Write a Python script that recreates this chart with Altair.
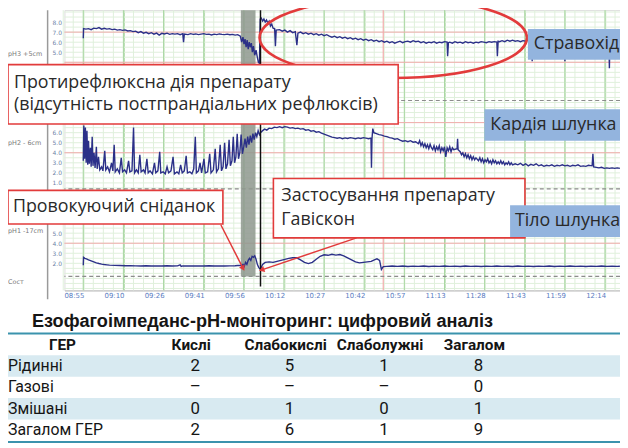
import altair as alt
import numpy as np
import pandas as pd

# ------------------------------------------------------------------ data
TIME_LABELS = ["08:55", "09:10", "09:26", "09:41", "09:56", "10:12", "10:27",
               "10:42", "10:57", "11:13", "11:28", "11:43", "11:59", "12:14"]
TIME_TICKS = [0, 15.33, 30.67, 46, 61.33, 76.67, 92, 107.33, 122.67, 138,
              153.33, 168.67, 184, 199.33]          # minutes after 08:55

CHANNELS = ["pH3 +5cm", "pH2 - 6cm", "pH1 -17cm"]
PH_TICKS = {"pH3 +5cm": [5, 6, 7, 8], "pH2 - 6cm": [1, 2, 3, 4, 5, 6], "pH1 -17cm": [2, 3, 4, 5]}

# (minutes after 08:55, pH)
PH3 = [(0, 6.4), (0.1, 7.35), (1, 7.3), (2, 7.35), (3, 7.25), (4, 7.4), (5, 7.35), (6, 7.45),
       (7, 7.3), (8, 7.38), (9, 7.3), (10, 7.35), (11, 7.25), (12, 7.3), (13, 7.2), (14, 7.25),
       (15, 7.18), (16, 7.22), (17, 7.12), (18, 7.15), (19, 7.05), (20, 7.1), (21, 6.95),
       (22, 7.05), (23, 6.9), (24, 6.98), (25, 6.85), (26, 6.95), (27, 6.8), (28, 6.9),
       (29, 6.7), (30, 6.88), (31, 6.82), (32, 6.9), (33, 6.78), (34, 6.85), (35, 6.8),
       (36, 6.85), (37, 6.75), (38, 6.85), (38.3, 6.0), (38.6, 6.8), (40, 6.75), (41, 6.85),
       (42, 6.78), (43, 6.82), (44, 6.75), (45, 6.8), (46, 6.85), (47, 6.78), (48, 6.8),
       (49, 6.72), (50, 6.8), (51, 6.75), (52, 6.82), (53, 6.78), (54, 6.75), (55, 6.8),
       (56, 6.74), (57, 6.78), (58, 6.7), (59, 6.75), (60, 6.6), (60.5, 6.0), (61, 6.5),
       (61.4, 5.8), (61.8, 6.3), (62.2, 5.5), (62.6, 6.2), (63, 5.3), (63.4, 6.0), (63.8, 5.5),
       (64.2, 5.9), (64.6, 5.0), (65, 5.6), (65.5, 4.7), (66, 5.2), (66.5, 4.5), (66.9, 4.0),
       (67.3, 3.9), (67.6, 8.3), (68, 8.4), (68.5, 8.1), (69, 8.3), (69.5, 8.0), (70, 8.2),
       (70.5, 7.9), (71, 8.1), (71.5, 7.6), (72, 7.8), (72.5, 7.4), (73.1, 7.35), (73.4, 5.6),
       (73.7, 7.2), (75, 7.25), (76, 7.1), (77, 7.2), (78, 7.0), (79, 7.15), (80, 6.95),
       (81, 7.05), (81.6, 5.7), (82, 6.9), (83, 7.0), (84, 6.85), (85, 6.95), (86, 6.8),
       (87, 6.9), (88, 6.75), (89, 6.85), (90, 6.7), (91, 6.8), (92, 6.65), (93, 6.75),
       (94, 6.6), (95, 6.5), (96, 6.6), (97, 6.45), (98, 6.55), (99, 6.4), (100, 6.5),
       (101, 6.35), (102, 6.45), (103, 6.3), (104, 6.4), (105, 6.25), (106, 6.35), (107, 6.2),
       (108, 6.3), (109, 6.15), (110, 6.25), (111, 6.1), (112, 6.2), (113, 6.05), (114, 6.15),
       (115, 6.0), (116, 6.1), (117, 5.95), (118, 6.05), (119, 5.9), (120, 6.0), (121, 6.1),
       (122, 5.95), (123, 6.05), (124, 6.1), (125, 6.0), (126, 6.15), (127, 6.05), (128, 6.1),
       (129, 5.95), (130, 6.05), (131, 5.9), (132, 6.0), (133, 5.95), (134, 6.05), (135, 5.9),
       (136, 6.0), (137, 5.95), (138, 6.05), (139, 6.0), (139.2, 4.6), (139.5, 5.95), (140, 6.0),
       (141, 5.9), (142, 6.05), (143, 5.95), (144, 6.0), (145, 5.9), (146, 6.05), (147, 5.95),
       (148, 6.0), (149, 5.9), (150, 6.0), (151, 5.95), (152, 6.05), (153, 6.0), (154, 5.95),
       (155, 6.05), (156, 6.0), (157, 6.05), (158, 6.0), (158.2, 4.6), (158.5, 6.1), (159, 6.05),
       (160, 6.15), (161, 6.05), (162, 6.2), (163, 6.1), (164, 6.2), (165, 6.1), (166, 6.15),
       (167, 6.05), (168, 6.15), (169, 6.1), (170, 6.2), (171.3, 6.1), (171.5, 4.1), (171.7, 6.1),
       (173, 6.15), (175, 6.05), (177, 6.15), (179, 6.1), (181, 6.15), (183.8, 6.1), (184, 4.1),
       (184.2, 6.1), (186, 6.05), (188, 6.15), (190, 6.1), (192, 6.05), (194, 6.15), (196, 6.1),
       (198, 6.05), (200.8, 6.1), (201, 3.4), (201.2, 6.1), (203, 6.05), (205, 6.1)]

PH2 = [(0, 3.2), (0.2, 6.7), (0.5, 3.4), (0.8, 6.5), (1.1, 3.0), (1.4, 6.2), (1.7, 2.8), (2.0, 5.2),
       (2.3, 2.9), (2.7, 4.5), (3.0, 2.6), (3.4, 5.6), (3.7, 2.7), (4.1, 4.0), (4.5, 2.5),
       (5.0, 4.6), (5.3, 2.4), (5.8, 3.6), (6.3, 2.3), (7.0, 2.6), (7.5, 2.2), (8.2, 4.2),
       (8.6, 2.3), (9.3, 2.6), (10.0, 2.1), (10.8, 3.0), (11.3, 2.2), (11.8, 4.8), (12.2, 2.1),
       (13.0, 2.4), (13.8, 2.0), (14.5, 3.5), (15.0, 2.1), (15.8, 2.3), (16.5, 2.0), (17.3, 3.2),
       (17.8, 2.1), (18.6, 2.2), (19.2, 6.5), (19.6, 2.0), (20.3, 2.3), (21.0, 2.0), (21.6, 3.8),
       (22.1, 2.1), (23.0, 2.3), (23.6, 2.0), (24.3, 3.4), (24.8, 2.0), (25.5, 2.2), (26.4, 1.9),
       (27.2, 3.0), (27.7, 2.0), (28.5, 2.2), (29.2, 4.1), (29.6, 2.0), (30.5, 2.1), (31.3, 1.9),
       (32.0, 2.6), (32.6, 2.0), (33.5, 2.2), (34.3, 3.6), (34.8, 1.9), (35.8, 2.1), (36.5, 1.9),
       (37.2, 2.8), (37.8, 2.0), (38.6, 2.2), (39.3, 3.7), (39.8, 2.0), (40.7, 2.1), (41.5, 1.9),
       (42.2, 2.4), (42.8, 5.6), (43.2, 2.0), (44.0, 2.2), (44.6, 3.0), (45.2, 2.0), (46.1, 3.4),
       (46.6, 2.0), (47.5, 2.1), (48.3, 3.9), (48.8, 2.0), (49.7, 2.3), (50.4, 4.4), (50.9, 2.1),
       (51.6, 2.4), (52.3, 4.8), (52.8, 2.2), (53.4, 2.6), (54.0, 5.0), (54.5, 2.4), (55.1, 2.9),
       (55.7, 5.3), (56.2, 2.7), (56.8, 3.2), (57.3, 5.6), (57.8, 3.0), (58.3, 3.6), (58.8, 5.9),
       (59.3, 3.4), (59.8, 4.0), (60.3, 5.8), (60.8, 3.9), (61.3, 4.6), (61.8, 5.4), (62.3, 4.5),
       (62.8, 5.6), (63.3, 4.8), (63.8, 5.7), (64.3, 5.0), (64.8, 5.9), (65.3, 5.3), (65.8, 6.0),
       (66.3, 5.6), (66.8, 6.2), (67.3, 5.8), (67.7, 6.0), (68.5, 6.2), (69.3, 6.35), (70.1, 6.25),
       (71.0, 6.45), (72.0, 6.4), (73.0, 6.55), (74.0, 6.5), (75.0, 6.6), (76.0, 6.5), (77.0, 6.6),
       (78.0, 6.55), (79.0, 6.45), (80.0, 6.5), (81.0, 6.4), (82, 6.45), (83, 6.35), (84, 6.4),
       (85, 6.25), (86, 6.3), (87, 6.15), (88, 6.2), (89, 6.05), (90, 6.1), (91, 5.95), (92, 5.85),
       (93, 5.75), (94, 5.65), (95, 5.55), (96, 5.5), (97, 5.45), (98, 5.5), (99, 5.4), (100, 5.48),
       (101, 5.42), (102, 5.5), (103, 5.45), (104, 5.4), (105, 5.48), (106, 5.42), (107, 5.5),
       (108, 5.45), (109, 5.4), (109.9, 5.45), (110.1, 2.5), (110.3, 5.4), (110.6, 6.4), (111, 6.0),
       (112, 5.9), (113, 5.8), (114, 5.75), (115, 5.65), (116, 5.6), (117, 5.5), (118, 5.45),
       (119, 5.35), (120, 5.4), (121, 5.25), (122, 5.15), (123, 5.2), (124, 5.1), (125, 5.2),
       (126, 5.05), (127, 5.1), (128, 4.9), (128.5, 5.2), (129, 4.7), (129.5, 5.0), (130, 4.6),
       (130.5, 4.9), (131, 4.5), (131.5, 4.8), (132, 4.4), (132.5, 4.85), (133, 4.5), (133.5, 4.3),
       (134, 4.7), (134.5, 4.2), (135, 4.6), (135.5, 4.3), (136, 4.7), (136.5, 4.1), (137, 4.5),
       (137.5, 4.2), (138, 4.6), (138.5, 3.6), (139, 4.5), (139.5, 4.2), (140, 4.6), (140.5, 4.1),
       (141, 4.5), (141.5, 4.3), (142.8, 4.4), (143.0, 5.4), (143.2, 4.3), (144, 4.1), (144.5, 3.8),
       (145, 4.0), (145.5, 3.6), (146, 3.9), (146.5, 3.5), (147, 3.8), (147.5, 3.4), (148, 3.7),
       (148.5, 3.3), (149, 3.6), (149.5, 3.3), (150, 3.5), (151, 3.2), (151.5, 3.5), (152, 3.1),
       (152.5, 3.4), (153, 3.0), (153.5, 3.3), (154, 3.1), (154.5, 3.4), (155, 3.0), (155.5, 3.2),
       (156, 2.9), (156.5, 3.3), (157, 3.0), (157.5, 3.2), (158, 2.9), (158.5, 3.1), (159, 2.9),
       (159.5, 3.2), (160, 2.9), (160.5, 3.1), (161, 2.8), (161.5, 3.0), (162, 2.85), (162.5, 3.1),
       (163, 2.8), (163.5, 3.0), (164, 2.8), (165, 2.9), (166, 2.8), (167, 2.95), (168, 2.75),
       (169, 2.9), (170, 2.7), (171, 2.85), (172, 2.75), (173, 2.9), (174, 2.7), (175, 2.8),
       (176, 2.65), (177, 2.75), (178, 2.7), (179, 2.8), (180, 2.65), (181, 2.75), (182, 2.7),
       (183, 2.8), (184, 2.7), (185, 2.75), (186, 2.65), (187, 2.75), (188, 2.7), (189, 2.8),
       (190, 2.65), (191, 2.7), (192, 2.65), (193, 2.75), (194.4, 2.7), (194.7, 3.9), (195.0, 2.6),
       (196, 2.55), (197, 2.5), (198, 2.55), (199, 2.45), (200, 2.5), (201, 2.45), (202, 2.5),
       (203, 2.45), (204, 2.5), (205, 2.45)]

PH1 = [(0, 1.8), (0.1, 2.6), (0.6, 2.5), (1.2, 2.45), (2, 2.35), (3, 2.25), (4, 2.15), (5, 2.05),
       (6, 1.98), (7, 1.92), (8, 1.88), (9, 1.85), (10, 1.82), (12, 1.8), (14, 1.78), (16, 1.76),
       (18, 1.77), (20, 1.75), (22, 1.74), (24, 1.76), (26, 1.73), (28, 1.75), (30, 1.74),
       (32, 1.76), (34, 1.73), (36, 1.75), (37, 1.85), (37.4, 1.7), (38, 1.74), (40, 1.75),
       (42, 1.73), (44, 1.75), (46, 1.74), (48, 1.76), (50, 1.74), (52, 1.75), (54, 1.73),
       (56, 1.75), (58, 1.76), (59, 1.78), (60, 1.8), (60.5, 1.75), (61, 1.9), (61.5, 1.7),
       (62, 2.1), (62.5, 1.9), (63, 2.3), (63.5, 2.5), (64, 2.3), (64.5, 2.7), (65, 2.6),
       (65.5, 2.75), (66, 2.4), (66.5, 1.9), (67, 1.6), (67.7, 1.4), (68.5, 1.9), (69.5, 2.1),
       (71, 2.15), (72.5, 2.1), (74, 2.2), (75.5, 2.3), (77, 2.4), (78.5, 2.5), (80, 2.55),
       (81.5, 2.55), (83, 2.35), (84.5, 2.1), (86, 1.97), (87.5, 2.1), (89, 2.4), (90.5, 2.7),
       (92, 2.85), (93.5, 2.8), (95, 2.9), (96.5, 2.82), (98, 2.88), (99.5, 2.75), (101, 2.55),
       (102.5, 2.35), (104, 2.15), (105.5, 2.05), (107, 2.1), (108.5, 2.15), (110, 2.2),
       (111.2, 2.35), (112.2, 2.45), (113.2, 2.3), (113.9, 1.4), (114.6, 1.68), (116, 1.7),
       (118, 1.74), (120, 1.7), (122, 1.73), (124, 1.69), (126, 1.72), (128, 1.7), (130, 1.73),
       (132, 1.68), (134, 1.72), (136, 1.7), (138, 1.74), (140, 1.7), (142, 1.72), (144, 1.69),
       (146, 1.73), (148, 1.7), (150, 1.72), (152, 1.68), (154, 1.72), (156, 1.7), (158, 1.74),
       (160, 1.7), (162, 1.72), (164, 1.69), (166, 1.73), (168, 1.7), (170, 1.72), (172, 1.68),
       (174, 1.72), (176, 1.7), (178, 1.73), (180, 1.69), (182, 1.72), (184, 1.7), (186, 1.73),
       (188, 1.7), (190, 1.72), (192, 1.69), (194, 1.72), (196, 1.7), (198, 1.73), (200, 1.7),
       (202, 1.72), (204, 1.7), (205, 1.71)]

BREAKFAST = (60.2, 65.8)        # minutes
GAVISCON = 67.7                 # minutes
EVENT_MARKS = [114.6]           # red event line
PH_REF = {"pH3 +5cm": [4, 7], "pH2 - 6cm": [4, 7], "pH1 -17cm": [4]}

TABLE_TITLE = "Езофагоімпеданс-рН-моніторинг: цифровий аналіз"
TABLE_CORNER = "ГЕР"
COLS = ["Кислі", "Слабокислі", "Слаболужні", "Загалом"]
ROWS = ["Рідинні", "Газові", "Змішані", "Загалом ГЕР"]
VALUES = [["2", "5", "1", "8"],
          ["–", "–", "–", "0"],
          ["0", "1", "0", "1"],
          ["2", "6", "1", "9"]]

NOTE_EFFECT = ["Протирефлюксна дія препарату", "(відсутність постпрандіальних рефлюксів)"]
NOTE_BREAKFAST = "Провокуючий сніданок"
NOTE_GAVISCON = ["Застосування препарату", "Гавіскон"]
SITE_LABELS = ["Стравохід", "Кардія шлунка", "Тіло шлунка"]
STATE_LABEL = "Cост"

# ------------------------------------------------------------------ layout
W, H = 561, 283
OFFSET = {"pH3 +5cm": 18, "pH2 - 6cm": 9, "pH1 -17cm": 0}
NAVY = "#2b3088"
RED = "#e23b3b"
BLUE_BOX = "#93b4de"
ANN_FONT = "Open Sans"
TAB_FONT = "Roboto"

XS = alt.Scale(domain=[-7.2, 205.05], nice=False, zero=False)
YS = alt.Scale(domain=[-0.69, 27.19], nice=False, zero=False)
ytick_vals = [p + OFFSET[c] for c in CHANNELS for p in PH_TICKS[c]]
X_AX = alt.Axis(values=TIME_TICKS, labels=False, ticks=False, title=None, grid=True,
                gridColor="#afdaa8", gridWidth=1, domain=True, domainColor="#c6c6c6",
                domainWidth=1.5)
Y_AX = alt.Axis(values=ytick_vals, title=None, grid=False, ticks=False, domain=False,
                labelExpr="format(datum.value > 17.5 ? datum.value - 18 : "
                          "(datum.value > 8.5 ? datum.value - 9 : datum.value), '.1f')",
                labelFontSize=6, labelColor="#6d7fa6", labelPadding=3,
                labelFont="DejaVu Sans", labelOverlap=False)


def X(field):
    return alt.X(field, type="quantitative", scale=XS, axis=X_AX)


def Y(field):
    return alt.Y(field, type="quantitative", scale=YS, axis=Y_AX)


one = pd.DataFrame({"k": [0]})

# traces
rows = []
for ch, pts in zip(CHANNELS, [PH3, PH2, PH1]):
    for i, (t, p) in enumerate(pts):
        rows.append({"ch": ch, "i": i, "t": t, "v": p + OFFSET[ch]})
traces = pd.DataFrame(rows)

# grid
minor_t = pd.DataFrame({"t": np.arange(-2 * 15.333 / 4, 206, 15.333 / 4)})
minor_v = pd.DataFrame({"v": np.arange(-0.5, 27.2, 0.5)})
grid_v = alt.Chart(minor_t).mark_rule(color="#e0f0dc", strokeWidth=1).encode(x=X("t"))
grid_h = alt.Chart(minor_v).mark_rule(color="#e0f0dc", strokeWidth=1).encode(y=Y("v"))
major = alt.Chart(pd.DataFrame({"t": TIME_TICKS})).mark_rule(
    color="#a9d7a2", strokeWidth=1).encode(x=X("t"))

ref_df = pd.DataFrame({"v": [p + OFFSET[c] for c in CHANNELS for p in PH_REF[c]]})
ref_lines = alt.Chart(ref_df).mark_rule(color="#f2abab", strokeWidth=1).encode(y=Y("v"))
event_lines = alt.Chart(pd.DataFrame({"t": EVENT_MARKS})).mark_rule(
    color="#f2abab", strokeWidth=1.2).encode(x=X("t"))
dashed = alt.Chart(pd.DataFrame({"v": [18.2, 9.4, 0.7]})).mark_rule(
    color="#8c8c8c", strokeWidth=1.2, strokeDash=[4, 3]).encode(y=Y("v"))

band = alt.Chart(pd.DataFrame({"t0": [BREAKFAST[0]], "t1": [BREAKFAST[1]]})).mark_rect(
    color="#8e988e", opacity=0.85).encode(x=X("t0"), x2="t1", y=alt.value(0), y2=alt.value(269))

lines = alt.Chart(traces).mark_line(color=NAVY, strokeWidth=1.4).encode(
    x=X("t"), y=Y("v"), detail="ch:N", order="i:Q")

black = alt.Chart(pd.DataFrame({"t": [GAVISCON]})).mark_rule(
    color="#111111", strokeWidth=1.5).encode(x=X("t"), y=alt.value(0), y2=alt.value(279))

time_text = alt.Chart(pd.DataFrame({"t": TIME_TICKS, "lab": TIME_LABELS})).mark_text(
    fontSize=7, color="#5a7cc2", font="DejaVu Sans", dx=-9, baseline="middle").encode(
    x=X("t"), y=alt.value(289), text="lab:N")

left_axis = alt.Chart(one).mark_rule(color="#9a9a9a", strokeWidth=1.5).encode(
    x=alt.value(-17), y=alt.value(0), y2=alt.value(292))


def txt(s, x, y, size=18, font=ANN_FONT, color="#2a2a2a", align="left", weight="normal"):
    return alt.Chart(one).mark_text(text=s, align=align, baseline="middle", font=font,
                                    fontSize=size, color=color, fontWeight=weight).encode(
        x=alt.value(x), y=alt.value(y))


def box(x0, y0, x1, y1, fill, stroke=None):
    kw = dict(fill=fill)
    if stroke:
        kw.update(stroke=stroke, strokeWidth=1.6)
    return alt.Chart(one).mark_rect(**kw).encode(
        x=alt.value(x0), x2=alt.value(x1), y=alt.value(y0), y2=alt.value(y1))


side = [txt(lab, -57, y, size=6.5, font="DejaVu Sans", color="#7a7a7a")
        for lab, y in zip(CHANNELS + [STATE_LABEL], [44, 134, 223, 275])]

ellipse = alt.Chart(one).mark_point(
    shape="M-1,0A1,0.3,0,1,0,1,0A1,0.3,0,1,0,-1,0Z", size=72900, filled=False,
    color=RED, strokeWidth=2.6, opacity=1).encode(x=alt.value(332), y=alt.value(28))


def arrow(x0, y0, x1, y1, ang):
    ln = alt.Chart(one).mark_rule(color=RED, strokeWidth=1.5).encode(
        x=alt.value(x0), y=alt.value(y0), x2=alt.value(x1), y2=alt.value(y1))
    hd = alt.Chart(one).mark_point(shape="triangle", filled=True, size=40, color=RED,
                                   angle=ang, opacity=1).encode(x=alt.value(x1), y=alt.value(y1))
    return [ln, hd]


annotations = (
    [ellipse]
    + [box(-57, 55, 337, 115, "white", RED),
       txt(NOTE_EFFECT[0], -51, 74), txt(NOTE_EFFECT[1], -51, 96)]
    + [box(468, 19, 561, 50, BLUE_BOX), txt(SITE_LABELS[0], 474, 34.5)]
    + [box(424, 100, 561, 132, BLUE_BOX), txt(SITE_LABELS[1], 430, 116)]
    + [box(-57, 182, 160, 216, "white", RED), txt(NOTE_BREAKFAST, -52, 199)]
    + arrow(158, 217, 180, 260, 153)
    + [box(211, 170, 465, 230, "white", RED),
       txt(NOTE_GAVISCON[0], 219, 188), txt(NOTE_GAVISCON[1], 219, 212)]
    + arrow(295, 230, 200, 262, 251)
    + [box(450, 197, 561, 229, BLUE_BOX), txt(SITE_LABELS[2], 455, 213)]
)

plot = alt.layer(grid_v, grid_h, major, ref_lines, event_lines, dashed, band, lines, black,
                 time_text, left_axis, *side, *annotations)

# ------------------------------------------------------------------ table
HDR = "__hdr__"
TY = alt.Scale(type="band", domain=[HDR] + ROWS, range=[327, 435],
               paddingInner=0, paddingOuter=0)
TX = alt.Scale(type="point", domain=COLS, range=[132, 418], padding=0)

cells = pd.DataFrame([{"row": r, "col": c, "val": VALUES[i][j]}
                      for i, r in enumerate(ROWS) for j, c in enumerate(COLS)])
stripes = pd.DataFrame({"row": ROWS[0::2]})
rowlab = pd.DataFrame({"row": ROWS})
heads = pd.DataFrame({"row": [HDR] * len(COLS), "col": COLS})

t_bg = alt.Chart(stripes).mark_rect(fill="#d8eaf1").encode(
    y=alt.Y("row:N", scale=TY, axis=None), x=alt.value(-57), x2=alt.value(561))
t_lines = alt.Chart(pd.DataFrame({"y": [326.5, 436]})).mark_rule(
    color="#3b93ad", strokeWidth=2).encode(
    y=alt.Y("y:Q", scale=alt.Scale(domain=[0, 448], range=[0, 448]), axis=None),
    x=alt.value(-57), x2=alt.value(561))
t_head = alt.Chart(heads).mark_text(font=TAB_FONT, fontSize=15.5, fontWeight="bold",
                                    color="#151515", baseline="middle", dx=-4).encode(
    y=alt.Y("row:N", scale=TY, axis=None), x=alt.X("col:N", scale=TX, axis=None),
    text="col:N")
t_corner = alt.Chart(pd.DataFrame({"row": [HDR]})).mark_text(
    text=TABLE_CORNER, font=TAB_FONT, fontSize=15.5, fontWeight="bold", color="#151515",
    baseline="middle").encode(y=alt.Y("row:N", scale=TY, axis=None), x=alt.value(-2))
t_rowlab = alt.Chart(rowlab).mark_text(font=TAB_FONT, fontSize=16, color="#151515",
                                       align="left", baseline="middle").encode(
    y=alt.Y("row:N", scale=TY, axis=None), x=alt.value(-57), text="row:N")
t_vals = alt.Chart(cells).mark_text(font=TAB_FONT, fontSize=17, color="#151515",
                                    baseline="middle").encode(
    y=alt.Y("row:N", scale=TY, axis=None), x=alt.X("col:N", scale=TX, axis=None),
    text="val:N")
t_title = alt.Chart(one).mark_text(text=TABLE_TITLE, font="Liberation Sans", fontSize=18.3,
                                   fontWeight="bold", color="#151515",
                                   baseline="middle").encode(x=alt.value(200), y=alt.value(315))

table = alt.layer(t_bg, t_lines, t_head, t_corner, t_rowlab, t_vals, t_title).resolve_scale(
    y="independent")

chart = alt.layer(plot, table).resolve_scale(x="independent", y="independent").properties(
    width=W, height=H, autosize=alt.AutoSizeParams(type="none"),
    padding={"left": 57, "top": 0, "right": 0, "bottom": 155},
).configure_view(stroke=None).configure(background="white")

chart.save("out.html", embed_options={"renderer": "svg", "actions": False})
